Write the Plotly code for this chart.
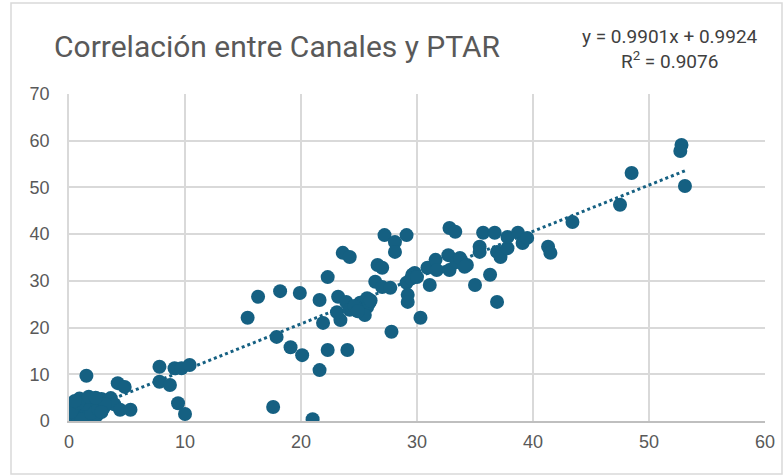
import plotly.graph_objects as go

# Data: x = Canales, y = PTAR
canales = [0.0, 0.3, 0.5, 0.7, 0.8, 1.0, 1.2, 0.9, 0.6, 1.4, 1.6, 1.8, 2.0, 2.2, 2.4, 2.6, 2.8, 3.0, 3.3, 3.6,
           3.9, 1.1, 0.4, 1.5, 2.1, 0.2, 1.9, 2.5, 1.3, 3.1, 0.8, 2.8, 0.5, 1.7, 2.3,
           1.5, 4.2, 4.8, 4.4, 5.3,
           7.8, 7.8, 8.7, 9.1, 9.7, 10.4, 9.4, 10.0,
           15.4, 16.3, 17.6, 17.9, 18.2, 19.1, 19.9, 20.1, 21.0, 21.6, 21.6, 21.9, 22.3, 22.3, 23.2, 23.4,
           23.6, 24.2, 23.9, 24.0, 23.1, 24.2, 25.1, 25.7, 25.5, 25.7, 25.9, 26.4, 26.6, 27.0, 27.0, 27.7,
           27.2, 28.1, 28.1, 29.1, 27.8, 29.1, 29.2, 29.2, 29.6, 29.8, 30.3, 30.9, 31.1, 31.6, 31.7, 32.7,
           32.8, 32.8, 33.3, 33.4, 33.7, 34.3, 34.1, 24.6, 24.9, 26.0, 29.5, 30.0,
           35.0, 35.4, 35.4, 35.7, 36.3, 36.7, 36.9, 37.2, 36.9, 37.8, 37.8, 38.7, 39.1, 39.5, 41.3, 41.5,
           43.4, 47.5, 48.5, 52.8, 52.7, 53.1]
ptar = [1.2, 0.5, 1.8, 2.5, 0.8, 3.2, 1.5, 4.8, 3.6, 2.8, 0.9, 3.9, 2.2, 4.4, 1.2, 3.4, 4.7, 2.9, 4.2, 4.9,
        3.6, 0.3, 2.9, 4.4, 3.0, 2.0, 1.7, 2.5, 3.7, 3.6, 3.9, 1.9, 4.3, 5.2, 5.0,
        9.7, 8.1, 7.3, 2.4, 2.4,
        11.6, 8.4, 7.7, 11.3, 11.3, 12.0, 3.8, 1.5,
        22.1, 26.6, 3.0, 18.0, 27.8, 15.8, 27.4, 14.1, 0.4, 10.9, 25.9, 21.0, 30.8, 15.2, 26.6, 21.6,
        36.0, 35.1, 25.5, 15.2, 23.3, 23.8, 25.3, 24.4, 22.7, 26.3, 25.3, 29.8, 33.4, 32.8, 28.7, 28.5,
        39.8, 38.3, 36.2, 39.8, 19.1, 29.6, 27.0, 25.5, 31.3, 31.7, 22.1, 32.8, 29.1, 34.5, 32.3, 35.5,
        32.3, 41.3, 40.5, 34.0, 34.9, 33.4, 33.0, 24.6, 23.5, 25.8, 30.5, 30.8,
        29.1, 37.3, 36.2, 40.3, 31.3, 40.3, 36.2, 35.1, 25.5, 37.0, 39.4, 40.3, 38.1, 39.2, 37.3, 36.0,
        42.6, 46.3, 53.1, 59.1, 57.8, 50.3]

slope = 0.9901
intercept = 0.9924
r2 = 0.9076
title_text = "Correlación entre Canales y PTAR"
x_ticks = [0, 10, 20, 30, 40, 50, 60]
y_ticks = [0, 10, 20, 30, 40, 50, 60, 70]

color = "#156082"
txt = "#595959"

x_line = [min(canales), max(canales)]
y_line = [slope * v + intercept for v in x_line]

fig = go.Figure()
fig.add_trace(go.Scatter(x=x_line, y=y_line, mode="lines",
                         line=dict(color=color, width=3, dash="dot"), hoverinfo="skip"))
fig.add_trace(go.Scatter(x=canales, y=ptar, mode="markers",
                         marker=dict(color=color, size=14, line=dict(width=0))))

W, H = 783, 476
L, R, T, B = 69, 18, 94, 55
pw, ph = W - L - R, H - T - B

def px2paper_x(px):
    return (px - L) / pw

def px2paper_y(py):
    return (H - B - py) / ph

fig.add_shape(type="rect", xref="paper", yref="paper",
              x0=px2paper_x(11), x1=px2paper_x(782), y0=px2paper_y(474), y1=px2paper_y(3),
              line=dict(color="#D9D9D9", width=1.5), fillcolor="rgba(0,0,0,0)", layer="below")

fig.add_annotation(text=title_text, xref="paper", yref="paper",
                   x=px2paper_x(52), y=px2paper_y(46), xanchor="left", yanchor="middle",
                   showarrow=False, font=dict(family="Liberation Sans Narrow, Roboto", size=30, color=txt))
fig.add_annotation(text=f"y = {slope:.4f}x + {intercept:.4f}<br>R<sup>2</sup> = {r2:.4f}",
                   xref="paper", yref="paper", align="center",
                   x=px2paper_x(670), y=px2paper_y(49), xanchor="center", yanchor="middle",
                   showarrow=False, font=dict(family="Liberation Sans Narrow, Roboto", size=19, color="#404040"))

axis_common = dict(showgrid=True, gridcolor="#D9D9D9", gridwidth=1.5, zeroline=False,
                   ticks="", tickfont=dict(family="Liberation Sans, Arial", size=18, color=txt))

fig.update_layout(
    width=W, height=H, margin=dict(l=L, r=R, t=T, b=B, autoexpand=False),
    plot_bgcolor="white", paper_bgcolor="white", showlegend=False,
    xaxis=dict(range=[0, 60], tickvals=x_ticks, showline=True, linecolor="#BFBFBF", linewidth=1.5,
               ticklabelstandoff=4, **axis_common),
    yaxis=dict(range=[0, 70], tickvals=y_ticks, showline=True, linecolor="#D9D9D9", linewidth=1.5,
               ticklabelstandoff=14, **axis_common),
)

fig.write_html("out.html", config={"displayModeBar": False},
               post_script="document.body.style.margin='0';document.body.style.overflow='hidden';")
